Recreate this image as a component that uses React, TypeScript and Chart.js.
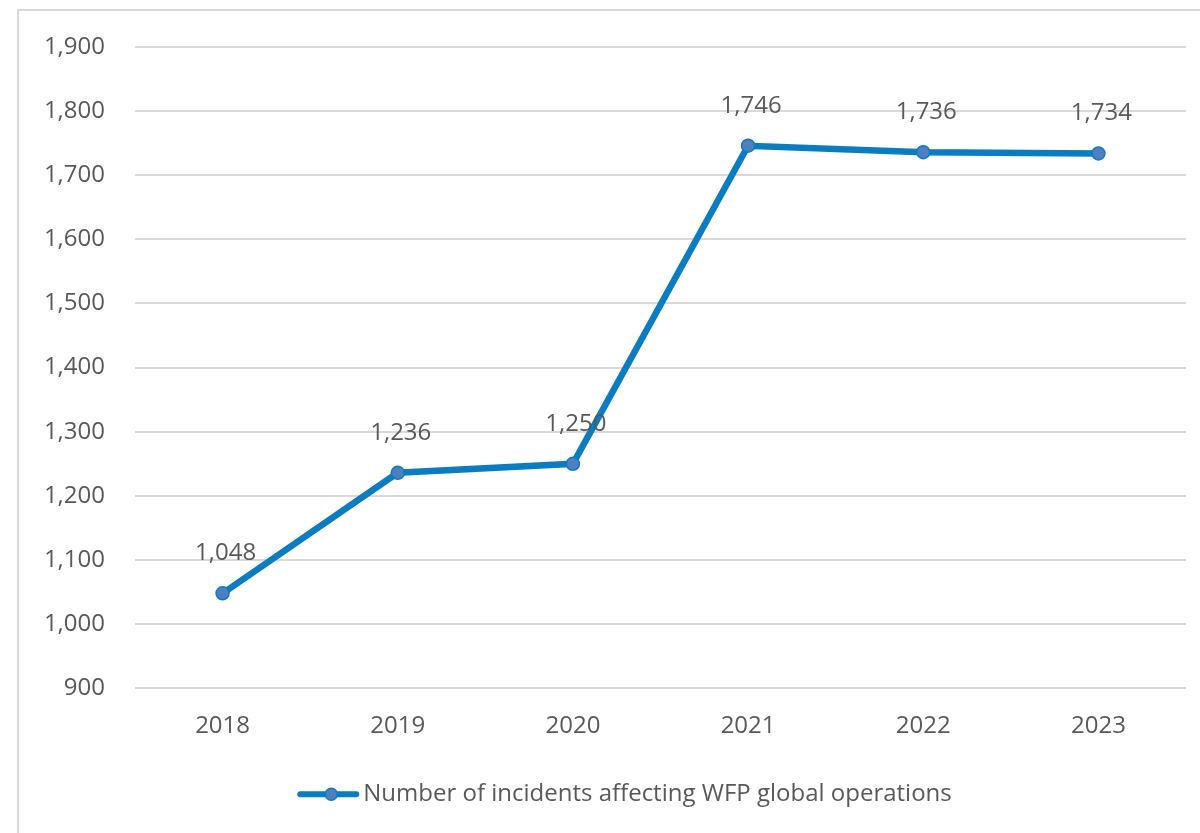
import React, { useEffect, useRef } from "react";
import { Chart, registerables } from "chart.js";

Chart.register(...registerables);

const years = ["2018", "2019", "2020", "2021", "2022", "2023"];
const incidents = [1048, 1236, 1250, 1746, 1736, 1734];
const seriesLabel = "Number of incidents affecting WFP global operations";
const yMin = 900;
const yMax = 1900;
const yStep = 100;

const LINE_COLOR = "#0a7cc1";
const POINT_FILL = "#4f7fbf";
const TEXT_COLOR = "#595959";
const FONT = "'Open Sans', 'Noto Sans', sans-serif";

const dataLabelPlugin = {
  id: "dataLabels",
  afterDatasetsDraw(chart: any) {
    const ctx = chart.ctx;
    const meta = chart.getDatasetMeta(0);
    ctx.save();
    ctx.font = `24px ${FONT}`;
    ctx.fillStyle = TEXT_COLOR;
    ctx.textAlign = "center";
    ctx.textBaseline = "middle";
    meta.data.forEach((pt: any, i: number) => {
      const v = chart.data.datasets[0].data[i] as number;
      ctx.fillText(v.toLocaleString("en-US"), pt.x + 3, pt.y - 40);
    });
    ctx.restore();
  },
};

const legendPlugin = {
  id: "lineLegend",
  afterDraw(chart: any) {
    const ctx = chart.ctx;
    const ds = chart.data.datasets[0];
    const cy = chart.chartArea.bottom + 106;
    ctx.save();
    ctx.font = `24px ${FONT}`;
    const tw = ctx.measureText(ds.label).width;
    const iconW = 62;
    const gap = 4;
    const total = iconW + gap + tw;
    const x0 = (chart.chartArea.left + chart.chartArea.right) / 2 - total / 2 - 36;
    ctx.strokeStyle = LINE_COLOR;
    ctx.lineWidth = 6;
    ctx.lineCap = "round";
    ctx.beginPath();
    ctx.moveTo(x0 + 3, cy);
    ctx.lineTo(x0 + iconW - 3, cy);
    ctx.stroke();
    ctx.beginPath();
    ctx.arc(x0 + 34, cy, 6, 0, Math.PI * 2);
    ctx.fillStyle = POINT_FILL;
    ctx.fill();
    ctx.lineWidth = 1.5;
    ctx.strokeStyle = LINE_COLOR;
    ctx.stroke();
    ctx.fillStyle = TEXT_COLOR;
    ctx.textAlign = "left";
    ctx.textBaseline = "middle";
    ctx.fillText(ds.label, x0 + iconW + gap, cy);
    ctx.restore();
  },
};

export default function App() {
  const ref = useRef<HTMLCanvasElement>(null);
  useEffect(() => {
    if (!ref.current) return;
    const chart = new Chart(ref.current, {
      type: "line",
      data: {
        labels: years,
        datasets: [
          {
            label: seriesLabel,
            data: incidents,
            borderColor: LINE_COLOR,
            backgroundColor: POINT_FILL,
            borderWidth: 6.5,
            pointRadius: 6.5,
            pointBorderWidth: 1.5,
            pointBorderColor: LINE_COLOR,
            pointBackgroundColor: POINT_FILL,
            tension: 0,
            pointStyle: "circle",
          },
        ],
      },
      options: {
        responsive: false,
        animation: false,
        layout: { padding: { top: 47, right: 14, left: 0, bottom: 68 } },
        scales: {
          x: {
            offset: true,
            grid: { display: false, drawTicks: false },
            border: { display: false },
            ticks: { color: TEXT_COLOR, font: { family: FONT, size: 24 }, padding: 24 },
          },
          y: {
            min: yMin,
            max: yMax,
            grid: { color: "#d9d9d9", lineWidth: 2, drawTicks: false },
            border: { display: false },
            ticks: {
              stepSize: yStep,
              color: TEXT_COLOR,
              font: { family: FONT, size: 24 },
              padding: 30,
              callback: (v: any) => Number(v).toLocaleString("en-US"),
            },
            afterFit: (s: any) => {
              s.width = 135;
            },
          },
        },
        plugins: {
          legend: { display: false },
          tooltip: { enabled: false },
        },
      },
      plugins: [dataLabelPlugin, legendPlugin],
    });
    return () => chart.destroy();
  }, []);
  return (
    <div style={{ position: "fixed", left: 0, top: 0, width: 1200, height: 833, background: "#fff", overflow: "hidden" }}>
      <div
        style={{
          position: "absolute",
          left: 17,
          top: 9,
          width: 1300,
          height: 900,
          border: "2px solid #d9d9d9",
          boxSizing: "border-box",
        }}
      />
      <canvas ref={ref} width={1200} height={833} style={{ position: "absolute", left: 0, top: 0 }} />
    </div>
  );
}
